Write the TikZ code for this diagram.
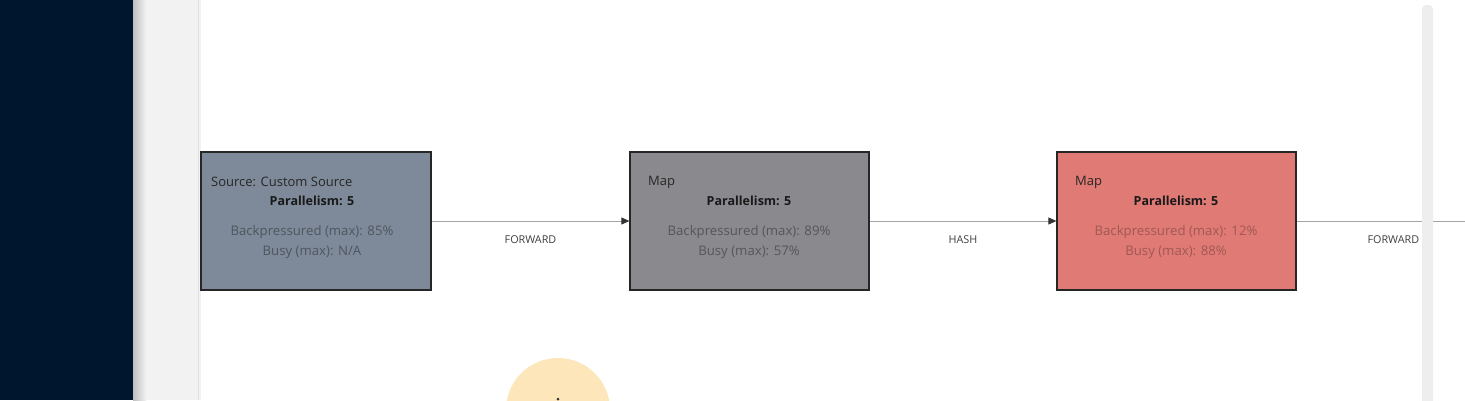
\documentclass[tikz,border=0pt]{standalone}
\usepackage{fontspec}
\setmainfont{Open Sans}
\usetikzlibrary{positioning,arrows.meta}

\definecolor{navy}{RGB}{0,22,46}
\definecolor{panelgray}{RGB}{242,242,242}
\definecolor{stripgray}{RGB}{238,238,238}
\definecolor{srcfill}{RGB}{126,138,153}
\definecolor{mapfill}{RGB}{138,138,142}
\definecolor{hotfill}{RGB}{224,122,117}
\definecolor{edgegray}{RGB}{165,165,165}
\definecolor{cursorglow}{RGB}{253,230,185}

\tikzset{
  opbox/.style={draw=black!85, line width=1.3pt, minimum width=230pt, minimum height=138pt, inner sep=0pt},
  optitle/.style={anchor=west, inner sep=0pt, font=\fontsize{13}{15}\selectfont, text=black!85},
  oppar/.style={inner sep=0pt, font=\fontsize{12.5}{14}\selectfont\bfseries, text=black!90},
  opstat/.style={inner sep=0pt, font=\fontsize{13.2}{15}\selectfont},
  edge/.style={draw=edgegray, line width=0.8pt, -{Stealth[length=8pt,width=7pt,inset=0pt,color=black!80]}},
  shiplabel/.style={inner sep=0pt, font=\fontsize{10.8}{12}\selectfont, text=black!75}
}

\begin{document}
\begin{tikzpicture}[x=1pt,y=-1pt]
\useasboundingbox (0,0) rectangle (1465,400);

% page background
\fill[white] (0,0) rectangle (1465,400);
\fill[navy] (0,0) rectangle (133,400);
\fill[panelgray] (133,0) rectangle (201,400);
\shade[left color=black!25, right color=panelgray] (133,0) rectangle (146,400);
\draw[black!12, line width=1pt] (198.5,0) -- (198.5,400);

% operators
\node[opbox, fill=srcfill] (src) at (316,221) {};
\node[opbox, fill=mapfill, minimum width=239pt] (map) at (749.5,221) {};
\node[opbox, fill=hotfill, minimum width=239pt] (hot) at (1176.5,221) {};

\node[optitle] (srcname) at (211,182) {Source: Custom Source};
\node[oppar] (srcpar) at (312,201) {Parallelism: 5};
\node[opstat, text=srcfill!62!black] (srcbp) at (312,232) {Backpressured (max): 85\%};
\node[opstat, text=srcfill!62!black] (srcbusy) at (312,252) {Busy (max): N/A};

\node[optitle] (mapname) at (648,182) {Map};
\node[oppar] (mappar) at (749,201) {Parallelism: 5};
\node[opstat, text=mapfill!62!black] (mapbp) at (749,232) {Backpressured (max): 89\%};
\node[opstat, text=mapfill!62!black] (mapbusy) at (749,252) {Busy (max): 57\%};

\node[optitle] (hotname) at (1075,182) {Map};
\node[oppar] (hotpar) at (1176,201) {Parallelism: 5};
\node[opstat, text=hotfill!72!black] (hotbp) at (1176,232) {Backpressured (max): 12\%};
\node[opstat, text=hotfill!72!black] (hotbusy) at (1176,252) {Busy (max): 88\%};

% connections
\coordinate (next) at (1490,221);
\draw[edge] (src.east) -- node[shiplabel, below=14pt] (fwd1) {FORWARD} (map.west);
\draw[edge] (map.east) -- node[shiplabel, below=14pt] (hash) {HASH} (hot.west);
\draw[edgegray, line width=0.8pt] (hot.east) -- node[shiplabel, below=14pt] (fwd2) {FORWARD} (next);

% scroll bar and cursor
\fill[stripgray, rounded corners=4pt] (1422,5) rectangle (1433,410);
\fill[cursorglow] (558,410) circle (52);
\fill[black!80] (558,399) circle (1.5);
\end{tikzpicture}
\end{document}
